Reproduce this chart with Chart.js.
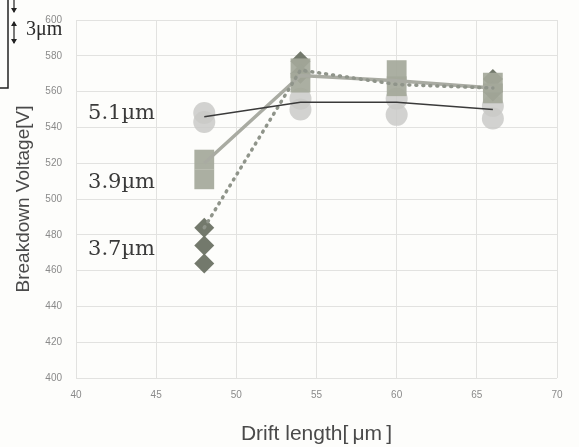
<!DOCTYPE html>
<html>
<head>
<meta charset="utf-8">
<script src="https://cdn.jsdelivr.net/npm/chart.js@4.4.1/dist/chart.umd.min.js"></script>
<style>
  html, body { margin: 0; padding: 0; background: #fdfdfb; }
  #wrap { width: 579px; height: 447px; }
</style>
</head>
<body>
<div id="wrap"><canvas id="c" width="579" height="447"></canvas></div>
<script>
// ---- data ----
const driftLengths = [48, 54, 60, 66];
const line51 = [546, 554, 554, 550];
const line39 = [520, 569, 566, 562];
const line37 = [484, 572, 564, 562];

const circlesX = [48, 48, 54, 54, 60, 60, 66, 66];
const circlesY = [548, 543, 556, 550, 556, 547, 552, 545];
const squaresX = [48, 48, 54, 54, 60, 60, 66, 66];
const squaresY = [522, 511, 573, 565, 572, 563, 565, 559];
const diamondsX = [48, 48, 48, 54, 54, 66, 66];
const diamondsY = [484, 474, 464, 577, 570, 567, 560];

const xTicks = [40, 45, 50, 55, 60, 65, 70];
const yTicks = [400, 420, 440, 460, 480, 500, 520, 540, 560, 580, 600];
const seriesLabels = ['5.1\u00b5m', '3.9\u00b5m', '3.7\u00b5m'];
const labelValues = [548, 509, 472];

function pts(xs, ys) { return xs.map((x, i) => ({ x: x, y: ys[i] })); }

const decoPlugin = {
  id: 'deco',
  afterDraw(chart) {
    const ctx = chart.ctx;
    const ys = chart.scales.y;
    const xa = chart.scales.x;
    ctx.save();
    // series labels
    ctx.font = '21px "DejaVu Serif", "Liberation Serif", serif';
    ctx.fillStyle = '#3a3a3a';
    ctx.textBaseline = 'middle';
    ctx.textAlign = 'left';
    seriesLabels.forEach((t, i) => {
      ctx.fillText(t, xa.getPixelForValue(40.75), ys.getPixelForValue(labelValues[i]));
    });
    // cropped fragment from a neighbouring figure (top-left)
    ctx.strokeStyle = '#222';
    ctx.fillStyle = '#222';
    ctx.lineWidth = 1.5;
    ctx.beginPath();
    ctx.moveTo(8, 0); ctx.lineTo(8, 88); ctx.lineTo(0, 88);
    ctx.stroke();
    ctx.lineWidth = 1.2;
    ctx.beginPath(); ctx.moveTo(14, 0); ctx.lineTo(14, 12); ctx.stroke();
    ctx.beginPath(); ctx.moveTo(11, 8); ctx.lineTo(14, 13); ctx.lineTo(17, 8); ctx.fill();
    ctx.beginPath(); ctx.moveTo(14, 22); ctx.lineTo(14, 43); ctx.stroke();
    ctx.beginPath(); ctx.moveTo(11, 26); ctx.lineTo(14, 21); ctx.lineTo(17, 26); ctx.fill();
    ctx.beginPath(); ctx.moveTo(11, 39); ctx.lineTo(14, 44); ctx.lineTo(17, 39); ctx.fill();
    ctx.font = '20px "Liberation Serif", "DejaVu Serif", serif';
    ctx.fillStyle = '#2a2a2a';
    ctx.fillText('3\u03bcm', 26, 30);
    ctx.restore();
  }
};

new Chart(document.getElementById('c'), {
  type: 'scatter',
  data: {
    datasets: [
      { label: 'circles', data: pts(circlesX, circlesY), pointStyle: 'circle', pointRadius: 11,
        backgroundColor: 'rgba(202,202,200,0.85)', borderWidth: 0, order: 6 },
      { label: 'diamonds', data: pts(diamondsX, diamondsY), pointStyle: 'rectRot', pointRadius: 10,
        backgroundColor: 'rgba(108,114,100,0.95)', borderWidth: 0, order: 5 },
      { label: 'squares', data: pts(squaresX, squaresY), pointStyle: 'rect', pointRadius: 14,
        backgroundColor: 'rgba(164,168,154,0.92)', borderWidth: 0, order: 4 },
      { label: '3.9', data: pts(driftLengths, line39), showLine: true, pointRadius: 0,
        borderColor: '#a9aba2', borderWidth: 3.5, order: 3 },
      { label: '3.7', data: pts(driftLengths, line37), showLine: true, pointRadius: 0,
        borderColor: '#8f948a', borderWidth: 3.5, borderDash: [1, 6], borderCapStyle: 'round', order: 2 },
      { label: '5.1', data: pts(driftLengths, line51), showLine: true, pointRadius: 0,
        borderColor: '#3a3a3a', borderWidth: 1.5, order: 1 }
    ]
  },
  options: {
    responsive: false,
    animation: false,
    layout: { padding: { top: 17, right: 22, left: 0, bottom: 0 } },
    plugins: { legend: { display: false }, tooltip: { enabled: false } },
    scales: {
      x: {
        type: 'linear', min: 40, max: 70,
        afterBuildTicks(s) { s.ticks = xTicks.map(v => ({ value: v })); },
        afterFit(s) { s.height = 69; },
        grid: { color: '#e2e2e0', drawTicks: false },
        border: { display: false },
        ticks: { color: '#8a8a8a', font: { family: 'Liberation Sans, Arial', size: 10 }, padding: 11 },
        title: { display: true, text: 'Drift length[\u2009\u03bcm\u2009]', color: '#4a4a4a',
          font: { family: 'Liberation Sans, Arial', size: 21 }, padding: { top: 10, bottom: 0 } }
      },
      y: {
        type: 'linear', min: 400, max: 600,
        afterBuildTicks(s) { s.ticks = yTicks.map(v => ({ value: v })); },
        afterFit(s) { s.width = 76; },
        grid: { color: '#e2e2e0', drawTicks: false },
        border: { display: false },
        ticks: { color: '#8a8a8a', font: { family: 'Liberation Sans, Arial', size: 10 }, padding: 14 },
        title: { display: true, text: 'Breakdown Voltage[V]', color: '#4a4a4a',
          font: { family: 'Liberation Sans, Arial', size: 19 }, padding: { top: 12, bottom: 2 } }
      }
    }
  },
  plugins: [decoPlugin]
});
</script>
</body>
</html>
